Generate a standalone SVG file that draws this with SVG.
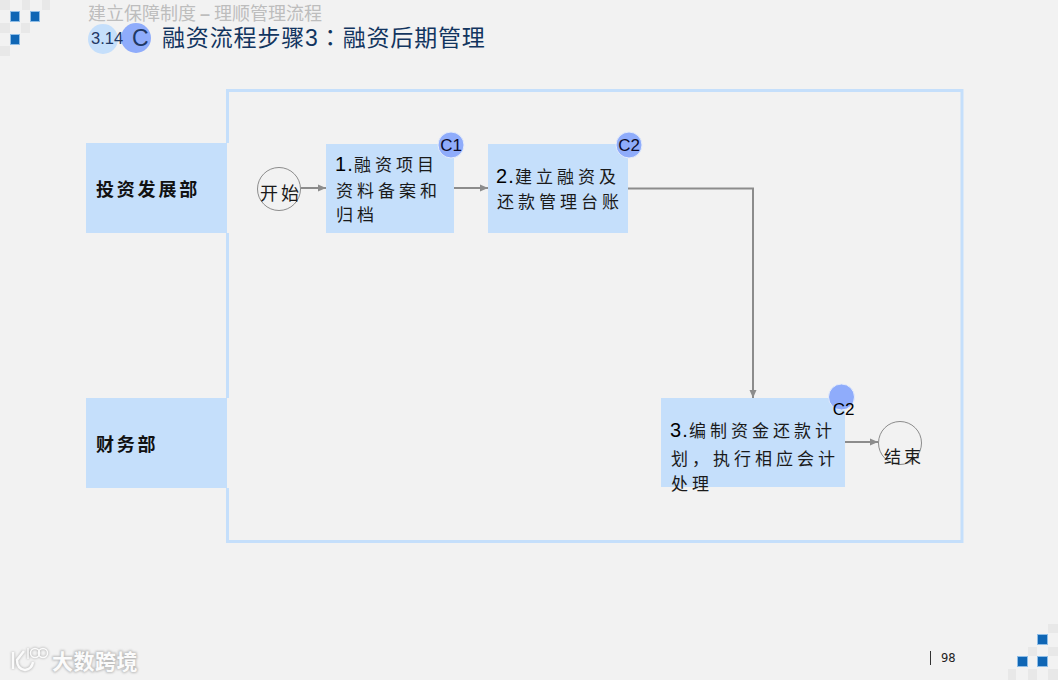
<svg xmlns="http://www.w3.org/2000/svg" width="1058" height="680" viewBox="0 0 1058 680">
<defs>
<marker id="arrow" markerUnits="userSpaceOnUse" markerWidth="9" markerHeight="8" refX="8" refY="4" orient="auto"><path d="M0 0.5L8 4L0 7.500Z" fill="#8c8c8c"/></marker>
<filter id="soft" x="-20%" y="-20%" width="140%" height="140%"><feGaussianBlur stdDeviation="0.900"/></filter>
</defs>
<style>
text{font-family:"Noto Sans CJK SC","Liberation Sans",sans-serif}
.box{fill:#c5dffb}
.gap{fill:#f2f2f2}
.badge{fill:#8facfb;stroke:#e4ecfb;stroke-width:1}
.lat{font-family:"Liberation Sans",Arial,sans-serif}
.bl{font-size:17px;fill:#1a1a1a;letter-spacing:4px}
.dept{font-size:18px;font-weight:700;fill:#111;letter-spacing:2.800px}
.num{font-family:"Liberation Sans",Arial,sans-serif;font-size:20px;letter-spacing:1.200px;fill:#000}
.tag{font-family:"Liberation Sans",Arial,sans-serif;font-size:17px;fill:#0d0d2a;text-anchor:middle}
.conn{fill:none;stroke:#8c8c8c;stroke-width:2}
.term{fill:none;stroke:#8c8c8c;stroke-width:1}
.lt{fill:#e8e8e8}
.dk{fill:#0f66b5;stroke:#8fbde6;stroke-width:1}
.logo-shadow{fill:none;stroke:#bcbcbc;stroke-width:3.500}
.logo-line{fill:none;stroke:#fbfbfb;stroke-width:2.500}
.logo-thin{fill:none;stroke:#fbfbfb;stroke-width:1.500}
.logo-thin-shadow{fill:none;stroke:#bcbcbc;stroke-width:2.500}
</style>
<rect width="1058" height="680" fill="#f2f2f2"/>
<g id="corner-top-left">
<rect class="lt" x="0" y="0" width="10" height="10"/><rect class="lt" x="22" y="0" width="8" height="10"/><rect class="lt" x="42" y="0" width="8" height="10"/>
<rect class="lt" x="0" y="23" width="10" height="10"/><rect class="lt" x="21" y="23" width="9" height="10"/><rect class="lt" x="0" y="46" width="10" height="10"/>
<rect class="dk" x="10.500" y="11.500" width="9" height="10"/><rect class="dk" x="30.500" y="11.500" width="9" height="10"/><rect class="dk" x="10.500" y="34.500" width="9" height="10"/>
</g>
<g id="corner-bottom-right">
<rect class="lt" x="1048" y="624" width="10" height="9"/>
<rect class="lt" x="1028" y="647" width="9" height="9"/><rect class="lt" x="1048" y="647" width="10" height="9"/>
<rect class="lt" x="1008" y="669" width="8" height="11"/><rect class="lt" x="1028" y="669" width="9" height="11"/><rect class="lt" x="1048" y="669" width="10" height="11"/>
<rect class="dk" x="1037.500" y="634.500" width="10" height="10"/><rect class="dk" x="1017.500" y="656.500" width="10" height="10"/><rect class="dk" x="1037.500" y="656.500" width="10" height="10"/>
</g>
<g id="header">
<text x="88" y="20" font-size="18" fill="#bdbdbd">建立保障制度 <tspan class="lat" font-weight="700">–</tspan> 理顺管理流程</text>
<circle cx="103" cy="39" r="15" fill="#c5dffb"/>
<circle cx="136" cy="38" r="15" fill="#8facfb"/>
<text class="lat" x="91" y="44" font-size="16.500" fill="#1f3864">3.14</text>
<text class="lat" x="132" y="46" font-size="23" fill="#1f3864">C</text>
<text x="162" y="46" font-size="23" letter-spacing="0.850" fill="#12355f">融资流程步骤<tspan class="lat">3</tspan><tspan style="font-family:'Noto Sans CJK TC',sans-serif">：</tspan>融资后期管理</text>
</g>
<g id="frame"><rect x="227.500" y="90.500" width="734.500" height="451" fill="none" stroke="#c5dffb" stroke-width="3"/></g>
<g id="dept-invest"><rect class="gap" x="227" y="143" width="4" height="90"/><rect class="box" x="86" y="143" width="141" height="90"/><text class="dept" x="96" y="196">投资发展部</text></g>
<g id="dept-finance"><rect class="gap" x="227" y="398" width="4" height="90"/><rect class="box" x="86" y="398" width="141" height="90"/><text class="dept" x="96" y="451">财务部</text></g>
<g id="connectors">
<path class="conn" d="M301 188H326" marker-end="url(#arrow)"/>
<path class="conn" d="M454 188H488" marker-end="url(#arrow)"/>
<path class="conn" d="M628 188.500H753V398" marker-end="url(#arrow)"/>
<path class="conn" d="M845 442H878" marker-end="url(#arrow)"/>
</g>
<g id="start"><circle class="term" cx="279" cy="189" r="21.500"/><text x="260" y="200" font-size="18" fill="#1a1a1a" letter-spacing="3">开始</text></g>
<g id="step1">
<rect class="box" x="326" y="144" width="128" height="89"/>
<text class="bl" x="335" y="171"><tspan class="num" letter-spacing="0">1.</tspan>融资项目</text>
<text class="bl" x="336" y="197">资料备案和</text>
<text class="bl" x="336" y="221">归档</text>
<circle class="badge" cx="451" cy="145" r="13"/><text class="tag" x="451" y="151">C1</text>
</g>
<g id="step2">
<rect class="box" x="488" y="144" width="140" height="89"/>
<text class="bl" x="496" y="183"><tspan class="num">2.</tspan>建立融资及</text>
<text class="bl" x="497" y="208">还款管理台账</text>
<circle class="badge" cx="629" cy="145" r="13"/><text class="tag" x="629" y="151">C2</text>
</g>
<g id="step3">
<rect class="box" x="661" y="398" width="184" height="89"/>
<text class="bl" x="670" y="437"><tspan class="num">3.</tspan>编制资金还款计</text>
<text class="bl" x="671" y="465">划，执行相应会计</text>
<text class="bl" x="671" y="490">处理</text>
<circle class="badge" cx="841.500" cy="397" r="13"/><text class="tag" x="843.500" y="415" style="fill:#000">C2</text>
</g>
<g id="end"><circle class="term" cx="900" cy="443" r="21.500"/><text x="884" y="463" font-size="17" fill="#1a1a1a" letter-spacing="3">结束</text></g>
<g id="logo">
<g filter="url(#soft)">
<path class="logo-shadow" d="M13 652V669M24 651L17 660Q17 669 25 670Q32 669 33 662"/>
<path class="logo-thin-shadow" d="M28 648V659"/>
<circle class="logo-thin-shadow" cx="35" cy="653" r="4.500"/><circle class="logo-thin-shadow" cx="43" cy="653" r="4.500"/>
<text x="52" y="669" font-size="21" font-weight="700" fill="#bcbcbc" stroke="#bcbcbc" stroke-width="2" letter-spacing="0.500">大数跨境</text>
</g>
<path class="logo-line" d="M13 652V669M24 651L17 660Q17 669 25 670Q32 669 33 662"/>
<path class="logo-thin" d="M28 648V659"/>
<circle class="logo-thin" cx="35" cy="653" r="4.500"/><circle class="logo-thin" cx="43" cy="653" r="4.500"/>
<text x="52" y="669" font-size="21" font-weight="700" fill="#fbfbfb" letter-spacing="0.500">大数跨境</text>
</g>
<g id="page"><path d="M930.500 651V665" stroke="#333" stroke-width="1"/><text x="941" y="662" font-size="11.500" fill="#222" style="font-family:'DejaVu Sans',sans-serif">98</text></g>
</svg>
